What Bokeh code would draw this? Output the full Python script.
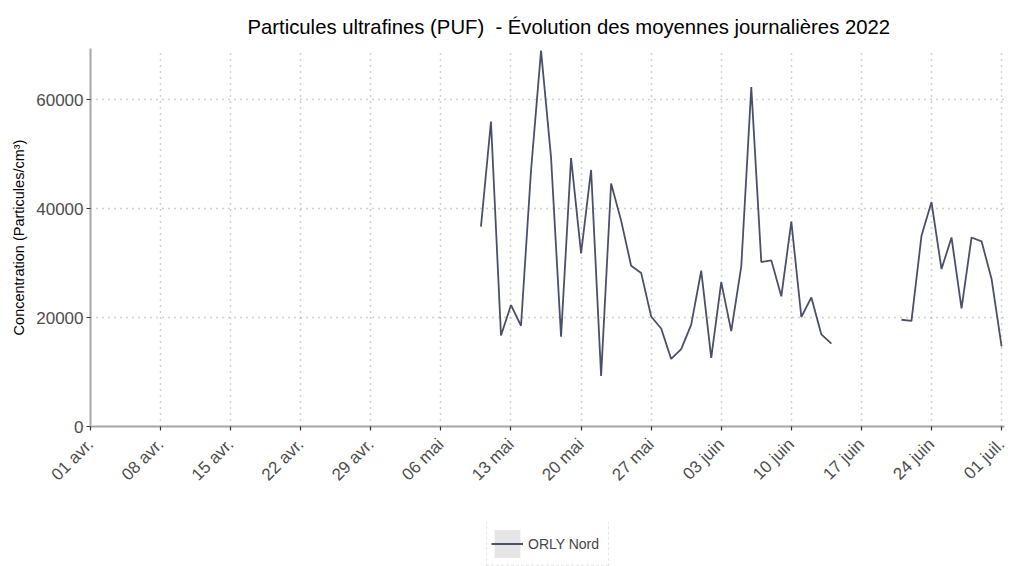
import math
import numpy as np
import pandas as pd
from bokeh.plotting import figure
from bokeh.layouts import column
from bokeh.models import (ColumnDataSource, FixedTicker, Range1d, Legend, LegendItem)
from bokeh.embed import file_html
from bokeh.resources import INLINE

# ---- data ----
start_date = "2022-05-10"
end_date = "2022-07-01"
orly_nord = [
    36700, 56000, 16700, 22300, 18500, 47000, 69000, 49400, 16500, 49300,
    31800, 47100, 9300, 44600, 37800, 29500, 28200, 20200, 18000, 12400,
    14200, 18700, 28600, 12600, 26500, 17500, 29400, 62300, 30200, 30500,
    23900, 37600, 20100, 23700, 16900, 15200,
    np.nan, np.nan, np.nan, np.nan, np.nan, np.nan,
    19600, 19400, 35000, 41200, 28900, 34700, 21700, 34700, 34000, 27100, 14700,
]
series_name = "ORLY Nord"
tick_dates = ["2022-04-01", "2022-04-08", "2022-04-15", "2022-04-22", "2022-04-29",
              "2022-05-06", "2022-05-13", "2022-05-20", "2022-05-27", "2022-06-03",
              "2022-06-10", "2022-06-17", "2022-06-24", "2022-07-01"]
tick_labels = ["01 avr.", "08 avr.", "15 avr.", "22 avr.", "29 avr.", "06 mai",
               "13 mai", "20 mai", "27 mai", "03 juin", "10 juin", "17 juin",
               "24 juin", "01 juil."]
y_ticks = [0, 20000, 40000, 60000]

dates = pd.date_range(start_date, end_date, freq="D")
src = ColumnDataSource(dict(date=dates, value=orly_nord))

def ms(d):
    return pd.Timestamp(d).value / 1e6

FONT = "Liberation Sans"
LINE_COLOR = "#4b5069"

p = figure(width=1013, height=522, x_axis_type="datetime",
           output_backend="svg", toolbar_location=None,
           x_range=Range1d(ms("2022-04-01"), ms("2022-07-01 07:00")),
           y_range=Range1d(0, 69400),
           min_border_left=90, min_border_right=9, min_border_top=48,
           min_border_bottom=96)
p.outline_line_color = None
p.background_fill_color = "white"

p.title.text = "Particules ultrafines (PUF)\u00a0 - \u00c9volution des moyennes journali\u00e8res 2022"
p.title.text_font = FONT
p.title.text_font_size = "20.3px"
p.title.text_font_style = "normal"
p.title.text_color = "black"
p.title.align = "left"
p.title.offset = 157
p.title.standoff = 21

r = p.line("date", "value", source=src, line_color=LINE_COLOR, line_width=1.8)

tick_ms = [ms(d) for d in tick_dates]
p.xaxis.ticker = FixedTicker(ticks=tick_ms)
p.xaxis.major_label_overrides = {t: l for t, l in zip(tick_ms, tick_labels)}
p.xaxis.major_label_orientation = math.pi / 4
p.yaxis.ticker = FixedTicker(ticks=y_ticks)
p.yaxis.formatter.use_scientific = False

for ax in (p.xaxis, p.yaxis):
    ax.axis_line_color = "#a6a6a6"
    ax.axis_line_width = 2
    ax.major_tick_line_color = "#333333"
    ax.major_tick_line_width = 1.2
    ax.major_tick_out = 4
    ax.major_tick_in = 0
    ax.minor_tick_line_color = None
    ax.major_label_text_font = FONT
    ax.major_label_text_font_size = "17px"
    ax.major_label_text_color = "#4d4d4d"
p.yaxis.major_label_standoff = 3
p.xaxis.major_label_standoff = 11

p.yaxis.axis_label = "Concentration (Particules/cm\u00b3)"
p.yaxis.axis_label_text_font = FONT
p.yaxis.axis_label_text_font_size = "14.5px"
p.yaxis.axis_label_text_font_style = "normal"
p.yaxis.axis_label_text_color = "black"
p.yaxis.axis_label_standoff = 6

for g in (p.xgrid, p.ygrid):
    g.grid_line_color = "#a0a0a0"
    g.grid_line_dash = "1 5"
    g.grid_line_width = 1.5

# ---- legend strip below the chart ----
lf = figure(width=1013, height=44, output_backend="svg", toolbar_location=None,
            x_range=Range1d(0, 1), y_range=Range1d(0, 1),
            min_border=0, min_border_left=0, min_border_right=0,
            min_border_top=0, min_border_bottom=0)
lf.axis.visible = False
lf.grid.visible = False
lf.outline_line_color = None
bg = lf.rect(x=[-10], y=[-10], width=1, height=1, fill_color="#e5e5e5", line_color=None)
lr = lf.line(x=[-10, -9], y=[-10, -10], line_color=LINE_COLOR, line_width=1.8)
legend = Legend(items=[LegendItem(label=series_name, renderers=[bg, lr])],
                location=(396, 0), orientation="horizontal",
                glyph_width=32, glyph_height=35, padding=4, spacing=0, margin=0,
                label_standoff=5, label_width=76,
                label_text_font=FONT, label_text_font_size="14px",
                border_line_color="#cccccc", border_line_dash="1 2",
                background_fill_color="white", background_fill_alpha=1)
lf.add_layout(legend, "center")

layout = column(p, lf, spacing=0)
open("out.html", "w").write(file_html(layout, INLINE))
